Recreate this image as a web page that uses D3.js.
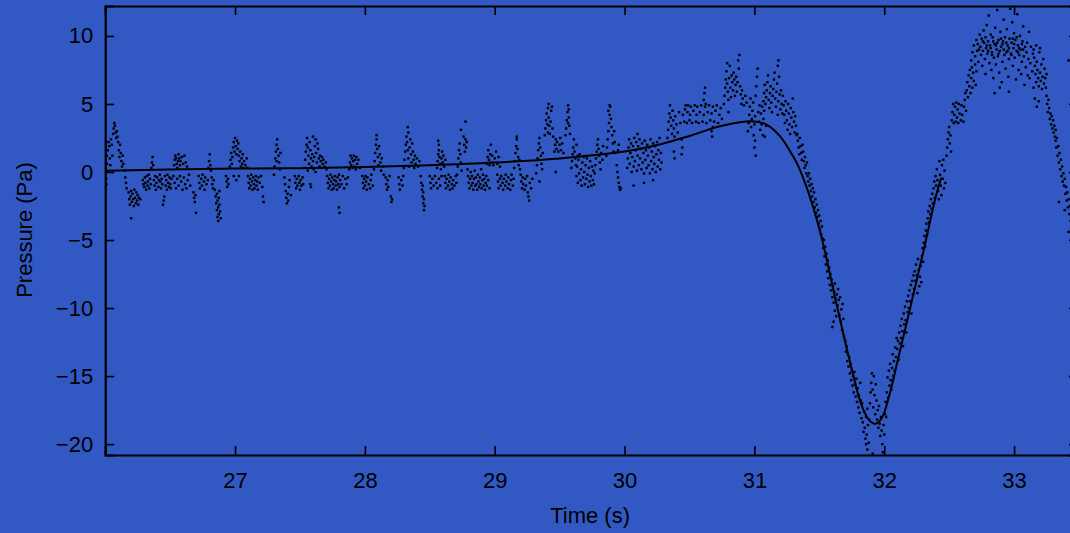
<!DOCTYPE html>
<html>
<head>
<meta charset="utf-8">
<script src="https://cdn.jsdelivr.net/npm/d3@7"></script>
<style>
html,body{margin:0;padding:0;background:#3259c3;}
svg{display:block;}
text{font-family:"Liberation Sans",Arial,Helvetica,sans-serif;fill:#000;}
</style>
</head>
<body>
<svg id="chart" width="1070" height="533"></svg>
<script>
const xTicks = [27, 28, 29, 30, 31, 32, 33];
const yTicks = [10, 5, 0, -5, -10, -15, -20];
const xLabel = "Time (s)";
const yLabel = "Pressure (Pa)";

// smooth fitted curve
const fitTime = [26.0, 26.5, 27.0, 27.5, 28.0, 28.5, 29.0, 29.5, 29.8, 30.0, 30.3, 30.5, 30.75, 31.0, 31.1, 31.2, 31.27, 31.33, 31.39, 31.45, 31.52, 31.63, 31.75, 31.82, 31.88, 31.93, 31.98, 32.05, 32.1, 32.2, 32.3, 32.4, 32.44];
const fitPressure = [0.1, 0.18, 0.25, 0.28, 0.36, 0.5, 0.7, 1.0, 1.28, 1.5, 2.1, 2.65, 3.4, 3.72, 3.45, 2.6, 1.6, 0.6, -0.8, -2.5, -4.9, -9.6, -14.5, -17.0, -18.2, -18.5, -18.1, -16.0, -14.0, -10.0, -5.9, -1.7, -0.4];

// raw pressure samples [time, pressure]
const samples = [
[26.003,0.9],[26.005,0.2],[26.008,-0.5],[26.01,-0.9],[26.012,1.2],[26.015,0.6],[26.02,1.6],[26.025,2.2],[26.03,1.9],[26.035,1.0],[26.04,0.5],[26.045,2.4],[26.05,2.0],[26.055,1.2],[26.06,2.8],[26.065,3.2],[26.07,3.6],[26.075,3.4],[26.08,2.9],[26.085,2.5],[26.09,3.0],[26.095,2.6],[26.1,2.2],[26.105,1.6],[26.11,1.1],[26.115,2.0],[26.12,1.4],[26.125,0.8],[26.13,0.4],[26.135,1.2],[26.14,0.6],[26.15,0.1],[26.155,-0.4],[26.16,-0.8],[26.165,-1.2],
[26.18,-1.5],[26.185,-2.0],[26.19,-2.4],[26.195,-1.8],[26.2,-1.4],[26.205,-2.2],[26.21,-1.6],[26.215,-2.0],[26.22,-2.5],[26.225,-1.3],[26.23,-1.9],[26.235,-2.3],[26.24,-1.5],[26.245,-2.1],[26.25,-1.7],[26.255,-2.4],[26.26,-1.9],[26.27,-2.0],[26.2,-3.4],
[26.29,-0.6],[26.295,-0.9],[26.3,-1.1],[26.305,-0.4],[26.31,-0.8],[26.315,-1.3],[26.32,-0.3],[26.325,-1.0],[26.33,-0.7],[26.335,-0.2],[26.34,-1.2],[26.345,-0.5],[26.35,-0.9],[26.355,0.3],[26.36,0.7],[26.365,1.1],[26.37,0.5],[26.375,-0.6],[26.38,-1.0],[26.385,-0.3],[26.39,-1.3],[26.395,-0.8],[26.4,-0.4],[26.41,-1.1],[26.415,-0.6],
[26.445,-2.4],[26.45,-2.1],[26.455,-1.8],
[26.42,-0.2],[26.425,-0.7],[26.43,-1.2],[26.435,-0.5],[26.44,-0.9],[26.46,-0.3],[26.465,-1.0],[26.47,-0.6],[26.475,-1.3],[26.48,-0.2],[26.485,-0.8],[26.49,-1.1],[26.495,-0.4],[26.5,-0.9],[26.505,-1.2],[26.51,-0.5],
[26.53,0.5],[26.535,0.9],[26.54,1.2],[26.545,1.0],[26.55,0.6],[26.555,0.3],[26.56,0.8],[26.565,1.3],[26.57,1.0],[26.575,0.5],[26.58,0.8],[26.59,1.1],[26.6,0.6],[26.61,1.2],[26.62,0.7],[26.63,0.4],
[26.525,-0.3],[26.535,-0.8],[26.545,-1.2],[26.555,-0.5],[26.565,-1.0],[26.575,-0.3],[26.585,-0.7],[26.595,-1.3],[26.605,-0.4],[26.615,-0.9],[26.625,-1.2],[26.635,-0.6],[26.645,-0.2],[26.655,-1.0],
[26.68,-1.5],[26.685,-1.9],[26.69,-2.2],[26.695,-1.7],[26.7,-3.0],
[26.72,-0.3],[26.725,-0.8],[26.73,-1.2],[26.74,-0.5],[26.745,-1.0],[26.75,-0.2],[26.76,-0.7],[26.765,-1.3],[26.77,-0.4],[26.78,-0.9],[26.79,-0.6],[26.795,0.3],[26.8,0.8],[26.805,1.3],[26.81,0.5],[26.815,0.1],[26.82,-0.4],[26.825,-0.9],[26.83,-1.2],[26.835,-0.6],
[26.845,-1.3],[26.85,-1.8],[26.855,-2.3],[26.86,-2.8],[26.865,-3.3],[26.87,-3.6],[26.86,-1.6],[26.865,-2.1],[26.87,-2.6],[26.875,-3.1],[26.88,-2.4],[26.875,-1.9],[26.885,-2.9],[26.89,-3.4],[26.88,-1.4],
[26.93,-0.3],[26.935,-0.7],[26.94,-1.1],[26.945,-0.5],[26.95,-0.9],
[26.96,0.4],[26.965,0.9],[26.97,1.4],[26.975,0.6],[26.98,1.1],[26.985,1.8],[26.99,2.2],[26.995,1.5],[27.0,2.5],[27.005,1.9],[27.01,1.3],[27.015,2.3],[27.02,1.7],[27.025,2.1],[27.03,1.2],[27.035,0.8],[27.04,1.5],[27.045,0.4],[27.05,1.0],[27.055,0.6],[27.06,1.3],[27.065,0.3],[27.07,0.8],[27.08,0.5],[27.09,1.0],[27.095,0.3],
[26.99,-0.3],[27.01,-0.6],[27.03,-0.3],
[27.1,-0.3],[27.105,-0.8],[27.11,-1.2],[27.115,-0.5],[27.12,-1.0],[27.125,-0.2],[27.13,-0.7],[27.135,-1.3],[27.14,-0.4],[27.145,-0.9],[27.15,-1.2],[27.155,-0.6],[27.16,-0.3],[27.165,-1.0],[27.17,-0.7],[27.175,-1.3],[27.18,-0.4],[27.19,-0.8],[27.2,-0.3],[27.21,-1.1],[27.215,-1.8],[27.22,-2.2],
[27.3,-0.2],[27.305,0.4],[27.31,1.0],[27.315,1.5],[27.32,2.0],[27.325,2.4],[27.33,1.7],[27.335,1.2],[27.34,0.7],[27.345,0.2],[27.35,1.4],[27.32,0.8],
[27.38,-0.4],[27.385,-0.9],[27.39,-1.4],[27.395,-1.9],[27.4,-2.3],[27.405,-1.6],[27.41,-2.1],[27.415,-1.1],[27.42,-0.6],[27.43,-1.7],
[27.46,-0.3],[27.465,-0.8],[27.47,-1.2],[27.475,-0.5],[27.48,-1.0],[27.49,-0.3],[27.495,-0.8],[27.5,-1.3],[27.505,-0.6],[27.51,-1.0],[27.52,-0.4],[27.525,-0.9],
[27.535,0.3],[27.54,0.9],[27.545,1.5],[27.55,2.0],[27.555,2.5],[27.56,1.8],[27.565,1.2],[27.57,0.6],[27.575,2.2],[27.58,1.6],[27.585,1.0],[27.59,0.4],[27.595,1.3],[27.6,0.8],[27.605,0.2],[27.61,1.1],[27.615,1.9],[27.62,2.4],[27.625,1.4],[27.63,0.7],[27.635,2.1],[27.64,1.7],[27.645,1.0],[27.65,0.4],[27.655,1.2],[27.66,0.8],[27.665,0.3],[27.67,1.1],[27.675,0.6],[27.68,0.9],[27.69,0.4],[27.7,0.7],[27.705,0.2],[27.58,-0.9],[27.585,-1.1],[27.6,2.6],[27.56,0.1],[27.62,0.0],
[27.71,-0.3],[27.715,-0.8],[27.72,-1.2],[27.725,-0.5],[27.73,-1.0],[27.735,-0.2],[27.74,-0.7],[27.745,-1.3],[27.75,-0.4],[27.755,-0.9],[27.76,-1.2],[27.765,-0.6],[27.77,-0.3],[27.775,-1.0],[27.78,-0.7],[27.785,-1.3],[27.79,-0.4],[27.795,-0.9],[27.8,-0.2],[27.805,-1.1],[27.81,-0.6],[27.82,-0.9],[27.83,-0.3],[27.84,-1.2],[27.85,-0.5],[27.86,-0.9],[27.87,-0.4],[27.8,-2.6],[27.805,-3.0],
[27.88,0.2],[27.885,0.7],[27.89,1.2],[27.895,0.5],[27.9,1.0],[27.905,0.3],[27.91,0.8],[27.915,1.2],[27.92,0.4],[27.925,0.9],[27.93,0.2],[27.935,1.1],[27.94,0.6],[27.95,0.9],[27.96,0.3],
[27.98,-0.3],[27.985,-0.8],[27.99,-1.2],[27.995,-0.5],[28.0,-1.0],[28.005,-0.3],[28.01,-0.7],[28.015,-1.3],[28.02,-0.4],[28.03,-0.9],[28.04,-1.2],[28.045,-0.6],[28.05,-0.2],[28.06,-1.0],
[28.07,0.2],[28.075,0.8],[28.08,1.4],[28.085,2.0],[28.09,2.4],[28.095,1.7],[28.1,1.1],[28.105,0.5],[28.11,1.9],[28.115,1.3],[28.12,0.7],[28.125,0.1],[28.13,1.0],[28.14,0.4],[28.145,-0.2],[28.09,2.7],
[28.16,-0.4],[28.165,-0.9],[28.17,-1.3],[28.175,-0.6],[28.18,-1.1],[28.19,-0.3],[28.2,-1.8],[28.205,-2.2],[28.21,-2.0],
[28.26,-0.4],[28.265,-0.9],[28.27,-1.3],[28.28,-0.6],[28.29,-1.0],[28.295,-0.3],
[28.3,0.3],[28.305,0.9],[28.31,1.5],[28.315,2.0],[28.32,2.6],[28.325,2.2],[28.33,1.6],[28.335,1.0],[28.34,0.4],[28.345,1.8],[28.35,2.4],[28.355,1.3],[28.36,0.7],[28.365,2.1],[28.37,1.5],[28.375,0.9],[28.38,0.3],[28.385,1.2],[28.39,0.6],[28.4,1.0],[28.41,0.4],[28.42,0.8],[28.33,3.3],[28.335,2.9],
[28.43,-0.3],[28.435,-0.8],[28.44,-1.3],[28.445,-1.8],[28.45,-2.3],[28.455,-2.8],[28.445,-1.0],[28.45,-1.5],[28.455,-2.0],[28.46,-2.5],
[28.5,-0.3],[28.505,-0.8],[28.51,-1.2],[28.52,-0.5],[28.53,-1.0],[28.54,-0.3],[28.55,-0.8],[28.56,-1.2],[28.57,-0.5],[28.58,-1.0],[28.59,-0.3],
[28.555,0.3],[28.56,0.8],[28.565,1.3],[28.57,1.6],[28.575,1.1],[28.58,0.6],[28.585,0.2],[28.59,1.0],[28.595,1.5],[28.6,0.7],[28.605,1.2],[28.61,0.4],[28.62,0.9],[28.565,2.3],[28.57,2.0],
[28.615,-0.3],[28.62,-0.8],[28.625,-1.2],[28.63,-0.5],[28.64,-1.0],[28.645,-0.2],[28.65,-0.7],[28.655,-1.3],[28.66,-0.4],[28.67,-0.9],[28.675,-1.2],[28.68,-0.6],[28.69,-1.0],[28.7,-0.3],[28.705,-0.8],
[28.71,-0.2],[28.715,0.4],[28.72,1.0],[28.725,1.6],[28.73,2.1],[28.735,1.3],[28.74,0.7],[28.745,0.1],[28.74,3.1],[28.76,2.6],[28.765,2.0],[28.77,1.5],[28.775,2.4],[28.78,1.8],[28.785,2.2],[28.775,3.7],
[28.79,0.2],[28.795,-0.3],[28.8,-0.8],[28.805,-1.2],[28.81,-0.5],[28.815,0.0],[28.82,-1.0],[28.825,-0.3],[28.83,-0.8],[28.835,-1.3],[28.84,-0.5],[28.845,0.1],[28.85,-1.0],[28.855,-0.4],[28.86,-0.9],[28.865,-1.3],[28.87,-0.2],[28.875,-0.7],[28.88,-1.1],[28.885,-0.4],[28.89,-0.9],[28.895,0.2],[28.9,-1.2],[28.905,-0.6],[28.91,-0.2],[28.915,-1.0],[28.92,-0.5],[28.925,-1.3],[28.93,-0.8],[28.935,-0.3],[28.94,-1.0],[28.95,-0.6],[28.96,-1.2],
[28.94,0.6],[28.945,1.1],[28.95,1.6],[28.955,0.9],[28.96,0.5],[28.965,1.3],[28.97,2.0],[28.975,0.7],[28.98,1.2],[28.99,0.5],[29.0,1.0],[29.01,1.5],[29.02,0.6],[29.03,1.1],[29.04,0.4],
[29.02,-0.2],[29.025,-0.7],[29.03,-1.2],[29.04,-0.5],[29.045,-1.0],[29.05,-0.3],[29.06,-0.8],[29.065,-1.3],[29.07,-0.5],[29.08,-1.0],[29.085,-0.2],[29.09,-0.7],[29.1,-1.2],[29.105,-0.4],[29.11,-0.9],[29.12,-1.3],[29.125,-0.6],[29.13,-0.2],[29.14,-1.0],[29.145,-0.5],
[29.15,0.3],[29.155,0.8],[29.16,1.4],[29.165,1.9],[29.17,2.4],[29.175,1.7],[29.18,1.1],[29.185,0.5],[29.19,0.9],[29.195,0.2],[29.17,2.6],
[29.2,-0.2],[29.205,-0.7],[29.21,-1.2],[29.215,-0.4],[29.22,-0.9],[29.23,-1.3],[29.235,-0.5],[29.24,-1.0],[29.25,-0.3],[29.255,-1.5],[29.26,-1.8],[29.265,-2.1],[29.27,-0.8],[29.28,-1.2],[29.29,-0.5],
[29.32,-0.1],[29.325,0.5],[29.33,1.0],[29.335,1.6],[29.34,2.1],[29.345,2.5],[29.35,1.8],[29.355,1.2],[29.36,0.6],[29.365,0.2],[29.37,1.4],[29.345,-0.7],
[29.385,2.7],[29.39,3.2],[29.395,3.8],[29.4,4.3],[29.405,3.5],[29.41,2.9],[29.415,4.0],[29.42,3.4],[29.425,2.8],[29.43,3.7],[29.435,4.5],[29.44,4.8],[29.445,3.2],[29.45,2.6],[29.41,4.7],[29.415,5.0],
[29.46,1.5],[29.465,2.0],[29.47,2.4],[29.475,1.7],[29.48,2.2],[29.49,1.5],[29.5,2.0],[29.505,2.5],[29.51,1.6],[29.52,2.1],[29.53,1.4],[29.47,0.0],
[29.545,2.7],[29.55,3.2],[29.555,3.8],[29.56,4.4],[29.565,4.9],[29.57,4.0],[29.575,3.4],[29.58,2.8],[29.565,3.6],[29.57,4.6],
[29.59,0.3],[29.595,0.8],[29.6,1.3],[29.605,1.8],[29.61,2.4],[29.615,1.5],[29.62,1.0],[29.625,0.5],[29.63,2.0],[29.64,1.2],
[29.63,-0.3],[29.635,0.4],[29.64,-0.8],[29.645,0.9],[29.65,-0.1],[29.655,1.3],[29.66,-0.6],[29.665,0.2],[29.67,-1.0],[29.675,0.7],[29.68,-0.4],[29.685,1.1],[29.69,0.0],[29.695,-0.9],[29.7,0.5],[29.705,-0.5],[29.71,1.0],[29.715,-0.2],[29.72,-1.1],[29.725,0.3],[29.73,-0.7],[29.735,0.8],[29.74,-0.3],[29.745,-1.0],[29.75,0.4],[29.755,-0.6],[29.76,0.1],[29.765,-0.9],
[29.77,-0.1],[29.775,0.5],[29.78,1.0],[29.785,1.5],[29.79,2.0],[29.795,2.4],[29.8,1.7],[29.805,1.2],[29.81,0.7],[29.815,0.2],[29.82,1.4],[29.83,0.9],[29.835,1.9],
[29.86,1.2],[29.865,1.8],[29.87,2.4],[29.875,3.0],[29.88,3.6],[29.885,4.2],[29.89,4.8],[29.895,3.9],[29.9,3.3],[29.905,2.7],[29.91,2.1],[29.915,1.5],[29.92,3.0],[29.925,2.2],[29.93,1.4],[29.885,4.9],[29.875,4.5],
[29.94,0.5],[29.945,0.0],[29.95,-0.4],[29.955,-0.8],[29.96,-1.1],[29.965,-1.3],[29.97,-1.2],[29.95,1.6],[29.955,2.0],
[30.02,0.3],[30.025,1.0],[30.03,1.8],[30.035,2.4],[30.04,0.6],[30.045,1.4],[30.05,2.1],[30.055,0.0],[30.06,1.1],[30.065,1.9],[30.07,0.4],[30.075,2.5],[30.08,0.8],[30.085,1.6],[30.09,2.2],[30.095,0.1],[30.1,1.2],[30.105,1.9],[30.11,0.5],[30.115,2.4],[30.12,1.0],[30.125,1.7],[30.13,0.2],[30.135,2.1],[30.14,0.7],[30.145,1.4],[30.15,-0.1],[30.155,2.3],[30.16,0.9],[30.165,1.6],[30.17,0.3],[30.175,2.0],[30.18,1.2],[30.185,0.5],[30.19,1.8],[30.195,-0.1],[30.2,2.4],[30.205,0.8],[30.21,1.5],[30.215,0.2],[30.22,2.1],[30.225,1.1],[30.23,0.6],[30.235,1.9],[30.24,0.0],[30.245,1.3],[30.25,2.2],[30.255,0.4],[30.26,1.6],[30.265,0.9],[30.27,2.5],[30.275,0.2],[30.28,1.4],[30.285,0.7],[30.07,-1.0],[30.15,-0.8],[30.22,-0.6],[30.1,2.8],
[30.33,2.5],[30.335,3.1],[30.34,3.7],[30.345,4.3],[30.35,4.9],[30.355,4.0],[30.36,3.4],[30.365,2.8],[30.37,4.5],[30.375,3.8],[30.38,3.2],[30.385,2.6],[30.39,4.1],[30.4,3.5],[30.41,2.9],[30.42,4.4],[30.43,3.6],[30.44,2.4],[30.445,1.8],[30.44,1.3],[30.38,1.5],[30.385,1.0],
[30.45,4.2],[30.46,3.7],[30.465,4.6],[30.47,4.9],[30.48,3.6],[30.485,4.4],[30.49,4.9],[30.5,3.8],[30.505,4.2],[30.51,4.8],[30.52,3.6],[30.53,4.5],[30.54,4.9],[30.55,3.7],[30.555,4.2],[30.56,4.8],[30.57,3.6],[30.58,4.4],[30.59,4.9],[30.6,3.7],[30.61,4.2],[30.62,4.8],[30.63,3.6],[30.64,4.4],[30.65,4.9],[30.66,3.8],[30.67,4.3],[30.68,4.8],[30.69,3.7],[30.7,4.5],[30.71,4.9],[30.72,3.6],[30.73,4.2],[30.74,4.7],[30.75,3.9],
[30.61,5.3],[30.615,5.8],[30.62,6.2],[30.625,5.0],[30.67,3.0],[30.675,2.6],[30.68,3.3],
[30.765,5.0],[30.77,5.6],[30.775,6.2],[30.78,6.8],[30.785,7.4],[30.79,6.5],[30.795,5.9],[30.8,5.3],[30.805,6.9],[30.81,7.8],[30.815,6.2],[30.82,5.5],[30.825,7.1],[30.83,6.6],[30.835,6.0],[30.84,7.3],[30.845,6.8],[30.85,5.6],[30.855,6.4],[30.86,7.0],[30.865,5.9],[30.87,6.6],[30.875,8.2],[30.88,7.6],[30.885,8.6],[30.89,6.3],[30.895,5.7],[30.9,5.0],[30.905,6.0],[30.91,5.4],[30.92,4.9],[30.93,5.6],[30.94,5.1],[30.8,4.4],[30.79,8.0],
[30.95,3.0],[30.955,3.6],[30.96,4.2],[30.965,4.8],[30.97,5.4],[30.975,3.3],[30.98,3.9],[30.985,4.5],[30.99,5.1],[30.995,2.7],[31.0,3.5],[31.005,4.1],[31.01,5.6],[31.015,6.3],[31.02,7.0],[31.025,7.6],[31.03,4.4],[31.035,3.7],[31.04,4.9],[31.045,3.1],[31.05,4.3],[31.055,3.5],[31.06,4.8],[31.065,2.7],[31.07,3.9],[31.075,4.5],[31.08,2.6],[31.09,3.4],[31.0,1.8],[31.005,2.3],[31.01,1.2],
[31.07,5.2],[31.075,5.8],[31.08,6.4],[31.085,5.0],[31.09,5.5],[31.095,6.0],[31.1,6.6],[31.105,7.1],[31.11,5.3],[31.115,4.7],[31.12,5.8],[31.125,6.3],[31.13,5.1],[31.135,4.4],[31.14,5.6],[31.145,6.1],[31.15,6.8],[31.155,7.3],[31.16,5.4],[31.165,4.8],[31.17,5.9],[31.175,6.5],[31.18,4.2],[31.185,5.2],[31.19,7.0],[31.195,5.7],[31.2,4.6],[31.205,6.0],[31.21,5.0],[31.215,4.3],[31.185,8.2],[31.18,7.8],
[31.22,5.6],[31.225,4.9],[31.23,4.2],[31.235,3.6],[31.24,5.2],[31.245,4.5],[31.25,3.8],[31.255,3.1],[31.26,5.0],[31.265,4.3],[31.27,3.5],[31.275,2.8],[31.28,4.7],[31.285,4.0],[31.29,3.3],[31.295,5.4],[31.3,4.4],[31.305,3.7],[31.31,2.9],[31.315,4.1],[31.32,3.4],[31.325,2.7],
[31.33,2.8],[31.335,2.3],[31.34,1.8],[31.345,1.3],[31.35,2.5],[31.355,1.9],[31.36,1.4],[31.365,0.9],[31.37,2.0],[31.375,1.5],[31.38,0.8],[31.385,0.3],[31.39,1.1],[31.395,0.5],[31.4,-0.1],[31.405,0.7],
[31.41,-0.3],[31.415,-0.7],[31.42,-0.1],[31.425,-1.0],[31.43,-0.5],[31.435,-1.4],[31.44,-0.9],[31.445,-1.8],[31.45,-1.2],[31.455,-2.2],[31.46,-1.5],[31.465,-2.6],[31.47,-2.0],[31.475,-3.0],[31.48,-2.4],[31.485,-3.3],[31.49,-2.8],[31.495,-3.8],[31.5,-3.2],[31.505,-4.2],[31.51,-3.6],[31.515,-4.6],[31.52,-4.0],[31.525,-4.9],
[31.53,-5.6],[31.535,-5.0],[31.54,-6.2],[31.545,-5.5],[31.55,-6.8],[31.555,-6.0],[31.56,-7.3],[31.565,-6.5],[31.57,-7.8],[31.575,-7.0],[31.58,-8.3],[31.585,-7.5],[31.59,-8.7],[31.595,-7.9],[31.6,-9.2],[31.605,-8.4],[31.61,-9.6],[31.615,-8.8],[31.62,-10.2],[31.625,-9.3],[31.63,-10.6],[31.635,-9.0],[31.64,-9.8],[31.645,-8.6],[31.65,-9.4],[31.655,-10.5],[31.66,-9.2],[31.665,-11.0],[31.67,-10.1],[31.675,-11.6],[31.68,-9.7],[31.685,-10.8],[31.69,-12.1],[31.6,-11.4],[31.61,-11.0],[31.62,-8.2],
[31.7,-12.4],[31.705,-13.2],[31.71,-12.8],[31.715,-13.9],[31.72,-13.4],[31.725,-14.3],[31.73,-13.6],[31.735,-14.8],[31.74,-14.1],[31.745,-15.3],[31.75,-14.6],[31.755,-15.7],[31.76,-15.0],[31.765,-16.2],[31.77,-14.7],[31.775,-15.6],[31.78,-16.5],[31.785,-15.2],[31.79,-16.9],[31.795,-15.9],[31.8,-17.3],[31.805,-16.4],[31.81,-17.7],[31.815,-15.5],[31.82,-16.8],[31.825,-18.1],
[31.83,-17.0],[31.835,-18.4],[31.84,-19.1],[31.845,-17.6],[31.85,-18.8],[31.855,-19.6],[31.86,-18.0],[31.865,-19.3],[31.87,-17.4],[31.875,-18.6],[31.88,-19.9],[31.885,-18.2],[31.89,-17.0],[31.895,-16.2],[31.9,-15.5],[31.905,-14.8],[31.91,-16.0],[31.915,-17.3],[31.92,-15.0],[31.925,-16.4],[31.93,-17.8],[31.935,-15.6],[31.94,-16.8],[31.945,-18.2],[31.95,-17.5],[31.955,-18.8],[31.96,-17.2],[31.965,-18.5],[31.97,-19.4],[31.975,-18.0],[31.98,-19.0],[31.985,-20.0],[31.99,-20.6],[31.995,-18.6],[32.0,-19.3],[32.005,-17.8],[32.01,-16.9],[32.015,-18.0],[31.86,-20.0],[31.87,-20.4],[31.91,-20.7],
[32.02,-16.2],[32.025,-15.1],[32.03,-16.6],[32.035,-14.6],[32.04,-15.7],[32.045,-14.1],[32.05,-15.3],[32.055,-16.0],[32.06,-14.4],[32.065,-13.4],[32.07,-15.0],[32.075,-13.9],[32.08,-14.6],[32.085,-12.9],[32.09,-13.6],[32.095,-12.2],
[32.1,-13.0],[32.105,-12.4],[32.11,-13.8],[32.115,-11.8],[32.12,-12.6],[32.125,-11.3],[32.13,-12.2],[32.135,-10.8],[32.14,-11.7],[32.145,-12.8],[32.15,-10.4],[32.155,-11.2],[32.16,-9.9],[32.165,-10.9],[32.17,-11.8],[32.175,-9.5],[32.18,-10.3],[32.185,-9.1],[32.19,-10.0],[32.195,-8.7],[32.2,-9.5],[32.205,-8.3],[32.21,-10.4],[32.215,-8.0],[32.22,-9.0],[32.225,-7.6],
[32.23,-8.6],[32.235,-7.3],[32.24,-8.0],[32.245,-6.8],[32.25,-7.6],[32.255,-8.9],[32.26,-6.4],[32.265,-7.2],[32.27,-8.4],[32.275,-7.7],[32.28,-6.9],[32.285,-8.1],[32.29,-6.2],[32.295,-5.6],[32.3,-6.6],[32.305,-5.2],[32.31,-4.7],[32.315,-5.5],[32.32,-4.3],[32.325,-3.8],[32.33,-4.6],[32.335,-3.4],[32.34,-2.9],[32.345,-3.7],[32.35,-2.5],[32.355,-3.1],[32.36,-2.0],[32.365,-2.7],[32.37,-1.6],[32.375,-2.3],[32.38,-1.2],[32.385,-0.7],[32.39,-1.9],[32.395,-0.3],[32.4,-1.0],
[32.405,0.2],[32.41,-0.6],[32.415,-1.4],[32.42,-2.0],[32.425,0.8],[32.43,-0.2],[32.435,-1.0],[32.44,-1.7],[32.445,0.5],[32.45,-0.5],[32.455,0.9],[32.46,-1.2],[32.465,0.1],[32.47,-0.8],
[32.48,1.2],[32.485,1.8],[32.49,2.4],[32.495,2.9],[32.5,3.3],[32.505,2.1],[32.51,2.7],[32.515,1.5],
[32.52,3.8],[32.525,4.4],[32.53,5.0],[32.535,3.6],[32.54,4.2],[32.545,4.8],[32.55,3.7],[32.555,5.1],[32.56,4.0],[32.565,4.6],[32.57,3.6],[32.575,5.0],[32.58,4.3],[32.59,3.8],[32.595,4.9],[32.6,4.2],[32.61,3.7],[32.615,4.8],[32.62,5.3],[32.625,5.8],[32.63,4.5],
[32.635,6.0],[32.64,6.6],[32.645,5.5],[32.65,7.1],[32.655,6.3],[32.66,7.5],[32.665,5.8],[32.67,6.9],[32.675,7.7],[32.68,6.2],[32.685,7.3],[32.69,6.7],[32.7,7.9],[32.705,6.4],[32.71,7.4],
[32.67,8.2],[32.68,8.8],[32.69,9.3],[32.7,8.5],[32.71,9.7],[32.715,8.9],[32.72,9.4],[32.725,8.1],[32.73,9.0],[32.735,10.1],
[32.74,9.2],[32.745,8.6],[32.75,9.8],[32.755,7.8],[32.76,8.9],[32.765,10.4],[32.77,9.5],[32.775,8.3],[32.78,7.2],[32.785,9.1],[32.79,10.8],[32.795,8.7],[32.8,9.6],[32.805,11.5],[32.81,8.0],[32.815,9.3],[32.82,10.1],[32.825,7.5],[32.83,8.8],[32.835,9.9],[32.84,6.9],[32.845,8.4],[32.85,9.4],[32.855,10.6],[32.86,7.9],[32.865,9.0],[32.87,11.9],[32.875,8.5],[32.88,9.7],[32.885,7.3],[32.89,8.9],[32.895,10.3],[32.9,9.2],[32.905,6.6],[32.91,8.1],[32.915,9.6],[32.92,11.2],[32.925,8.6],[32.93,9.9],[32.935,7.6],[32.94,8.8],[32.945,10.5],[32.95,9.3],[32.955,7.0],[32.96,8.3],[32.965,9.8],[32.97,12.0],[32.975,8.7],[32.98,9.5],[32.985,11.0],[32.99,7.8],[32.995,9.1],[33.0,10.2],[33.005,8.4],[33.01,9.7],[33.015,6.8],[33.02,8.9],[33.025,11.6],[33.03,9.3],[33.035,7.5],[33.04,8.6],[33.045,10.0],[33.05,9.0],[33.055,7.2],[33.06,8.1],[33.065,9.6],[33.07,10.7],[33.075,8.5],[33.08,6.4],[33.085,9.2],[33.09,7.7],[33.095,8.8],[33.1,9.5],[33.105,7.1],[33.11,8.3],[33.115,10.3],[33.12,6.9],[33.125,8.0],[33.13,9.2],[33.14,7.4],[33.145,8.7],[33.15,6.2],
[32.76,9.6],[32.78,9.9],[32.8,8.9],[32.82,9.1],[32.84,9.6],[32.86,9.3],[32.88,8.7],[32.9,9.8],[32.92,9.0],[32.94,9.5],[32.96,9.1],[32.98,8.6],[33.0,9.4],[33.02,9.9],[33.04,9.1],[33.06,9.4],[32.79,9.3],[32.83,8.6],[32.87,9.5],[32.91,9.4],[32.95,8.9],[32.99,9.8],[33.03,8.8],[33.07,9.0],[32.85,5.8],[32.96,5.9],[32.89,6.2],
[33.15,9.0],[33.155,8.4],[33.16,7.8],[33.165,7.2],[33.17,6.6],[33.175,8.1],[33.18,7.5],[33.185,6.9],[33.19,6.3],[33.195,8.8],[33.2,7.3],[33.205,6.7],[33.21,7.9],[33.215,6.1],[33.22,7.0],[33.225,8.3],[33.23,6.5],[33.235,7.6],[33.24,6.9],[33.245,6.2],[33.25,7.2],[33.17,9.3],[33.2,9.1],[33.16,5.4],[33.175,4.8],[33.19,5.2],
[33.25,5.6],[33.255,5.0],[33.26,4.4],[33.265,5.3],[33.27,4.7],[33.275,3.9],[33.28,4.3],[33.285,3.5],[33.29,4.1],[33.295,3.2],[33.3,3.8],[33.305,2.9],[33.31,3.4],[33.315,2.6],[33.32,3.1],
[33.32,2.3],[33.325,1.8],[33.33,2.5],[33.335,1.2],[33.34,1.9],[33.345,0.7],[33.35,1.4],[33.355,0.2],[33.36,0.9],[33.365,-0.3],[33.37,0.4],[33.375,-0.7],[33.38,-0.1],
[33.385,-1.0],[33.39,-0.5],[33.395,-1.6],[33.4,-1.1],[33.405,-2.1],[33.41,-1.5],[33.415,-2.6],[33.42,-2.0],[33.425,-3.1],[33.43,-2.5],[33.435,-3.6],[33.44,-3.0],[33.44,-4.2],[33.345,-2.2],[33.39,-2.8],[33.42,-4.4],[33.42,8.2]
];

const W = 1070, H = 533;
const plotLeft = 105.2, plotRight = 1079, plotTop = 6, plotBottom = 455;

const x = d3.scaleLinear().domain([26, 33.5]).range([plotLeft, plotRight]);
const y = d3.scaleLinear().domain([-20.8, 12.2]).range([plotBottom, plotTop]);

const svg = d3.select("#chart");
svg.append("rect").attr("width", W).attr("height", H).attr("fill", "#3259c3");

svg.append("clipPath").attr("id", "clip")
  .append("rect").attr("x", plotLeft).attr("y", plotTop)
  .attr("width", plotRight - plotLeft).attr("height", plotBottom - plotTop);

const plot = svg.append("g").attr("clip-path", "url(#clip)");

// scatter samples
const dot = 2.4;
plot.selectAll("rect.pt").data(samples).join("rect")
  .attr("class", "pt")
  .attr("x", d => x(d[0]) - dot / 2)
  .attr("y", d => y(d[1]) - dot / 2)
  .attr("width", dot).attr("height", dot)
  .attr("fill", "#000");

// fitted line
const fit = fitTime.map((t, i) => [t, fitPressure[i]]);
plot.append("path").datum(fit)
  .attr("fill", "none").attr("stroke", "#000").attr("stroke-width", 2)
  .attr("d", d3.line().x(d => x(d[0])).y(d => y(d[1])).curve(d3.curveCatmullRom.alpha(0.5)));

const fmt = v => (v < 0 ? "\u2212" + Math.abs(v) : String(v));
const tickLen = 9;

// axes
const axB = svg.append("g").attr("transform", `translate(0,${plotBottom})`)
  .call(d3.axisBottom(x).tickValues(xTicks).tickFormat(fmt).tickSize(-tickLen).tickPadding(17));
const axT = svg.append("g").attr("transform", `translate(0,${plotTop})`)
  .call(d3.axisTop(x).tickValues(xTicks).tickFormat("").tickSize(-tickLen));
const axL = svg.append("g").attr("transform", `translate(${plotLeft},0)`)
  .call(d3.axisLeft(y).tickValues(yTicks).tickFormat(fmt).tickSize(-tickLen).tickPadding(12));
const axR = svg.append("g").attr("transform", `translate(${plotRight},0)`)
  .call(d3.axisRight(y).tickValues(yTicks).tickFormat("").tickSize(-(tickLen + 1)));

[axB, axT, axL, axR].forEach(g => {
  g.select(".domain").attr("stroke", "#000").attr("stroke-width", 2.2);
  g.selectAll(".tick line").attr("stroke", "#000").attr("stroke-width", 1.6);
  g.selectAll(".tick text").attr("fill", "#000").style("font-size", "22px")
    .style("font-family", '"Liberation Sans", Arial, sans-serif');
});
axB.selectAll(".tick text").attr("dy", "0.71em");

svg.append("text").attr("x", (plotLeft + plotRight) / 2 - 2).attr("y", 523)
  .attr("text-anchor", "middle").style("font-size", "22px").text(xLabel);

svg.append("text").attr("transform", "translate(32,230) rotate(-90)")
  .attr("text-anchor", "middle").style("font-size", "22px").text(yLabel);
</script>
</body>
</html>
